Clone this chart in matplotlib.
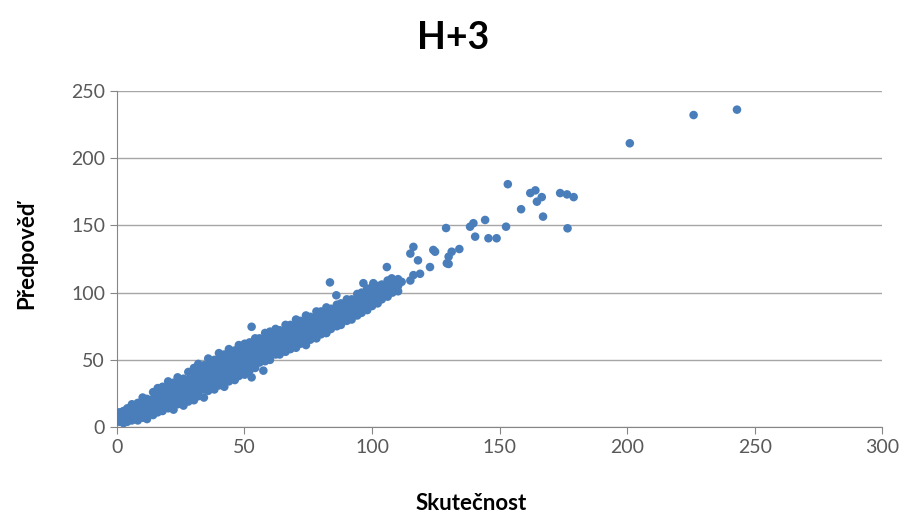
import matplotlib
matplotlib.use("Agg")
import matplotlib.pyplot as plt

plt.rcParams['font.family'] = ['Lato', 'DejaVu Sans']

# hustý pás bodů: pro každou přibližnou hodnotu skutečnosti seznam předpovědí
pas_x = [1.0, 2.6, 4.1, 5.9, 8.2, 10.1, 11.8, 14.2, 16.0, 17.9,
         20.1, 22.2, 23.8, 26.1, 28.0, 30.2, 31.9, 34.1, 35.8, 38.2,
         40.0, 42.1, 43.9, 46.2, 47.8, 50.1, 52.0, 54.2, 55.9, 58.1,
         60.0, 62.2, 63.8, 66.1, 68.0, 70.2, 71.9, 74.1, 75.8, 78.2,
         80.0, 82.1, 83.9, 86.2, 87.8, 90.1, 92.0, 94.2, 95.9, 98.1,
         100.0, 102.2, 103.8, 106.1, 108.0, 110.2]
pas_y = [[4, 8, 11],
         [3, 6, 10, 12],
         [4, 8, 11, 14],
         [5, 9, 12, 17],
         [5, 8, 13, 16, 18],
         [7, 10, 14, 18, 22],
         [6, 11, 15, 19, 21],
         [9, 12, 17, 21, 26],
         [11, 14, 18, 22, 25, 29],
         [12, 16, 20, 24, 28, 30],
         [14, 17, 21, 25, 29, 34],
         [13, 18, 22, 26, 30, 33],
         [17, 20, 24, 28, 32, 37],
         [16, 21, 25, 29, 33, 36],
         [19, 22, 27, 31, 35, 41],
         [20, 24, 28, 33, 37, 41, 44],
         [23, 26, 30, 34, 38, 43, 47],
         [22, 28, 32, 36, 40, 44, 46],
         [27, 30, 34, 38, 42, 46, 51],
         [28, 32, 36, 40, 44, 48, 50],
         [31, 34, 38, 42, 46, 50, 55],
         [30, 35, 39, 43, 47, 51, 54],
         [34, 37, 41, 45, 49, 53, 58],
         [35, 39, 43, 47, 51, 55, 57],
         [38, 41, 45, 49, 53, 57, 61],
         [39, 43, 47, 51, 55, 59, 62],
         [42, 45, 49, 53, 57, 61, 63],
         [44, 49, 53, 57, 61, 66],
         [48, 51, 55, 59, 63, 66],
         [49, 53, 57, 61, 65, 70],
         [50, 55, 59, 63, 67, 71],
         [54, 57, 61, 65, 69, 73],
         [54, 58, 62, 66, 70, 72],
         [56, 60, 64, 68, 72, 76],
         [58, 61, 65, 69, 73, 76],
         [59, 63, 67, 71, 75, 80],
         [62, 65, 69, 73, 77, 79],
         [61, 66, 70, 74, 78, 83],
         [65, 68, 72, 76, 80, 82],
         [66, 70, 74, 78, 82, 86],
         [69, 72, 76, 80, 84, 86],
         [70, 74, 78, 82, 86, 89],
         [73, 77, 81, 85, 88],
         [75, 78, 82, 86, 91],
         [76, 80, 84, 88, 92],
         [79, 82, 86, 90, 95],
         [80, 84, 88, 92, 95],
         [83, 86, 90, 94, 99],
         [85, 89, 93, 97, 100],
         [87, 91, 95, 99, 103],
         [90, 93, 97, 101, 104],
         [92, 96, 100, 105],
         [95, 98, 102, 106],
         [97, 101, 105, 109],
         [100, 103, 107],
         [101, 105, 110]]

# odlehlé a řídké body
ridke_x = [52.8, 57.4, 52.8, 83.5, 86.0, 82.0, 96.6, 100.5, 105.8, 107.7,
           111.6, 115.0, 116.2, 118.8, 105.7, 116.2, 115.0, 118.0, 124.7, 122.7,
           124.0, 130.0, 129.3, 131.2, 134.2, 130.0, 129.0, 138.4, 140.4, 139.7,
           144.3, 145.6, 148.8, 152.5, 153.2, 158.4, 162.0, 164.0, 166.5, 164.6,
           167.0, 173.7, 176.4, 179.0, 176.6, 201.0, 226.0, 243.0]
ridke_y = [74.6, 42.0, 37.0, 107.6, 98.0, 70.0, 107.0, 107.0, 119.0, 110.6,
           108.0, 109.0, 113.0, 114.0, 102.0, 134.0, 129.0, 124.0, 130.4, 119.0,
           131.7, 126.7, 121.8, 130.4, 132.4, 121.3, 148.0, 149.0, 141.6, 151.6,
           154.0, 140.4, 140.4, 149.0, 180.6, 162.0, 174.0, 176.0, 171.0, 167.6,
           156.5, 174.0, 173.0, 171.0, 147.8, 211.0, 232.0, 236.0]

skutecnost = []
predpoved = []
for x, ys in zip(pas_x, pas_y):
    for y in ys:
        skutecnost.append(x)
        predpoved.append(y)
skutecnost += ridke_x
predpoved += ridke_y

fig = plt.figure(figsize=(9.06, 5.19), dpi=100)
ax = fig.add_axes([0.129, 0.177, 0.845, 0.648])

ax.scatter(skutecnost, predpoved, s=38, color='#4A7EBB', edgecolors='none',
           zorder=3)

ax.set_xlim(0, 300)
ax.set_ylim(0, 250)
ax.set_xticks(range(0, 301, 50))
ax.set_yticks(range(0, 251, 50))
ax.grid(axis='y', color='#A6A6A6', linewidth=1)
ax.set_axisbelow(True)

for s in ['top', 'right']:
    ax.spines[s].set_visible(False)
for s in ['left', 'bottom']:
    ax.spines[s].set_color('#868686')
ax.tick_params(colors='#868686', length=5, labelcolor='#595959', labelsize=14)

fig.text(0.5, 0.927, 'H+3', fontsize=27, fontweight='bold', ha='center', va='center')
fig.text(471 / 906, 1 - 503 / 519, 'Skutečnost', fontsize=16, fontweight='bold',
         ha='center', va='center')
fig.text(27 / 906, 1 - 255 / 519, 'Předpověď', fontsize=16, fontweight='bold',
         ha='center', va='center', rotation=90)

fig.savefig('out.png', dpi=100)
